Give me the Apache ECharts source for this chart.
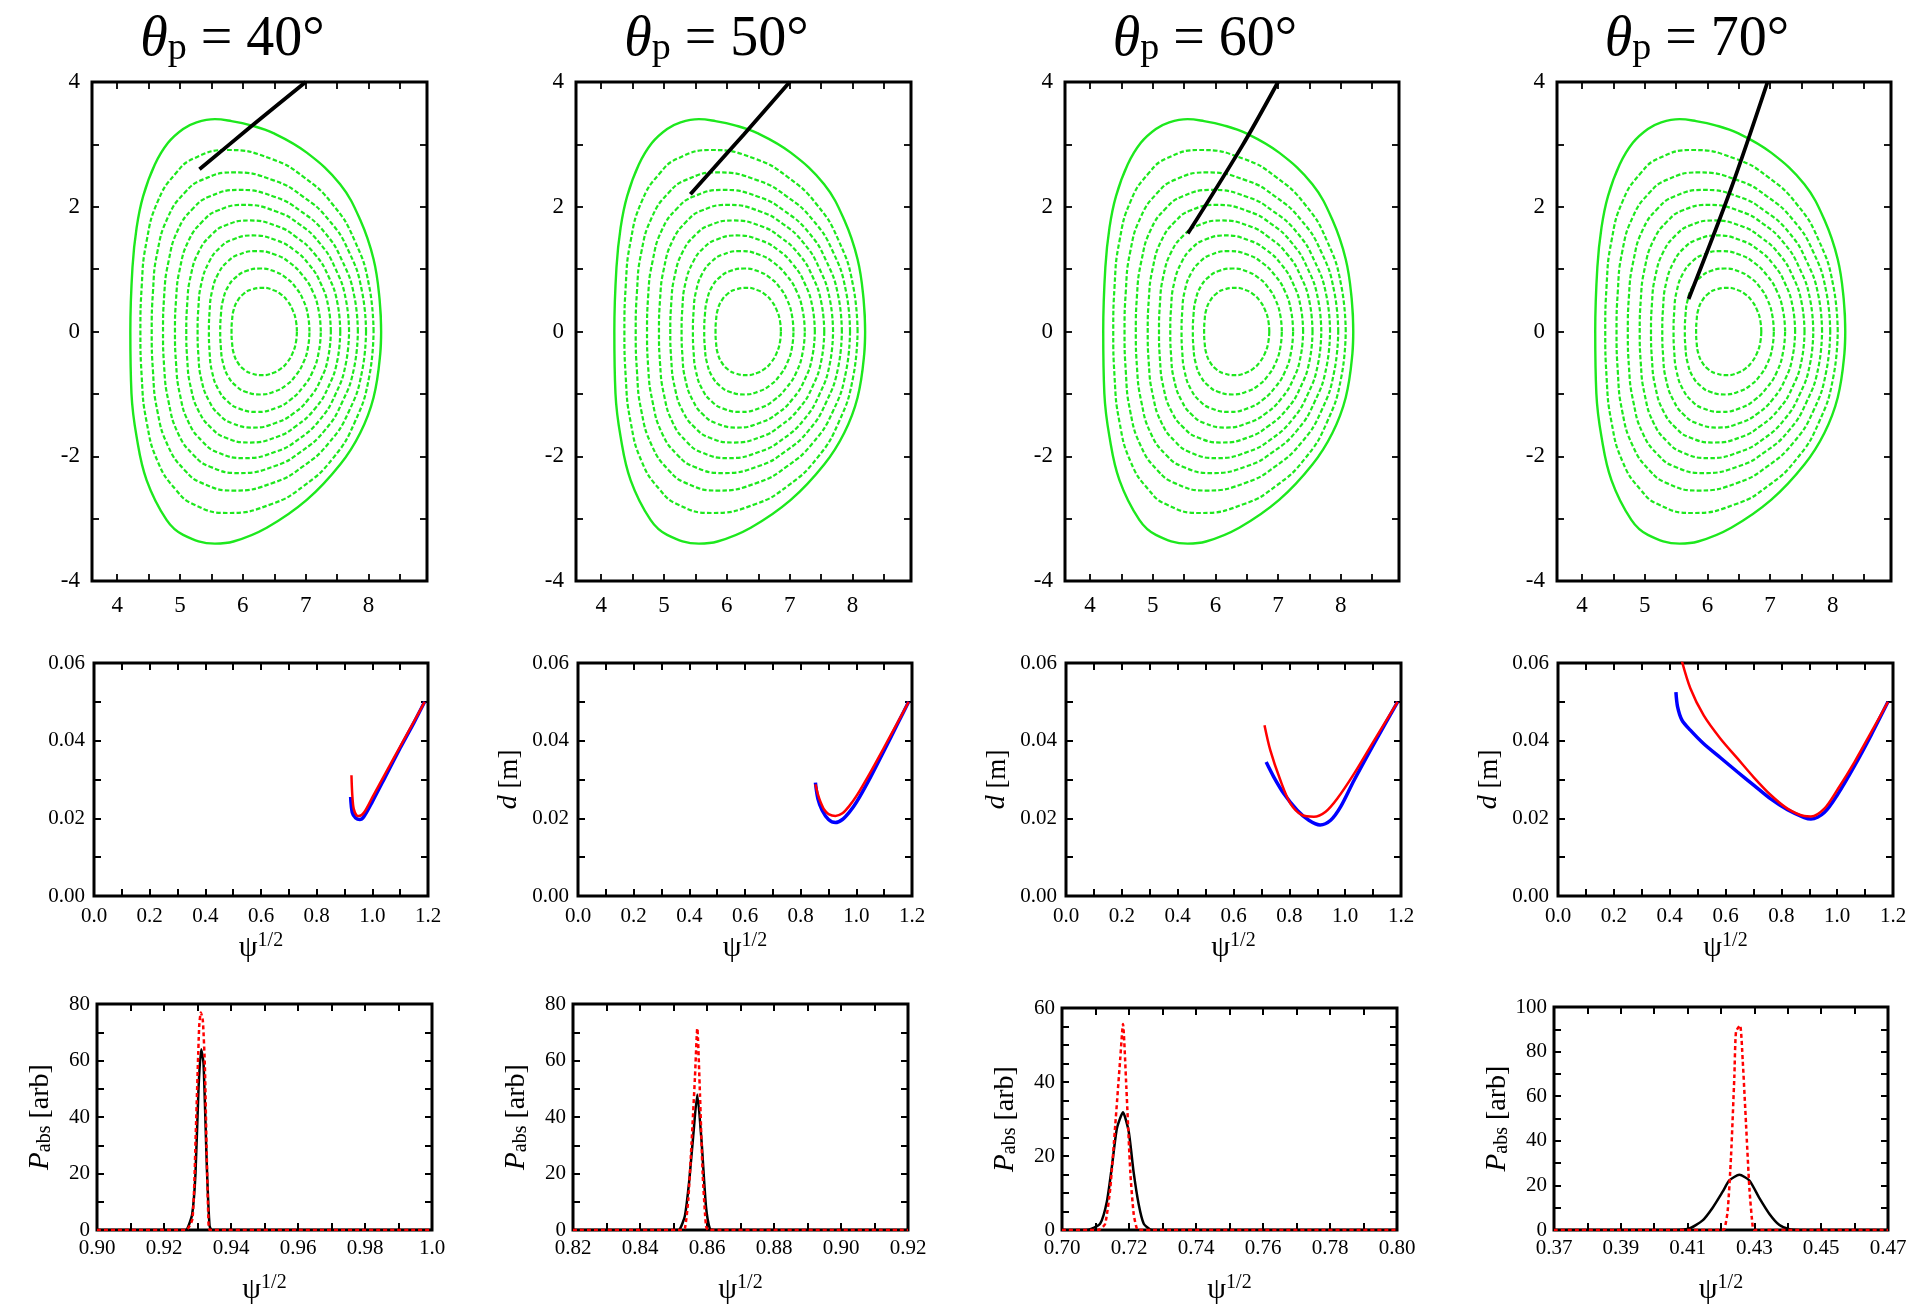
<!DOCTYPE html>
<html>
<head>
<meta charset="utf-8">
<script src="https://cdn.jsdelivr.net/npm/echarts@6.0.0/dist/echarts.min.js"></script>
<style>
  html, body { margin: 0; padding: 0; background: #fff; }
  #main { position: absolute; left: 0; top: 0; width: 1932px; height: 1306px; }
</style>
</head>
<body>
<div id="main"></div>
<script>
var SERIF = 'Liberation Serif';

var thetaP = ['40', '50', '60', '70'];

// ---- flux surfaces, upper halves: outboard midplane -> top -> inboard midplane, [R, Z]
var surf1 = [[6.86,0],[6.844,0.175],[6.79,0.35],[6.71,0.49],[6.60,0.60],[6.48,0.665],[6.32,0.70],[6.13,0.67],[6.02,0.61],[5.92,0.50],[5.855,0.35],[5.828,0.175],[5.82,0]];
var surf2 = [[7.06,0],[7.037,0.2525],[6.96,0.505],[6.84,0.707],[6.69,0.86],[6.51,0.96],[6.28,1.01],[6.04,0.965],[5.90,0.88],[5.77,0.727],[5.685,0.505],[5.65,0.2525],[5.64,0]];
var surf3 = [[7.24,0],[7.209,0.3225],[7.11,0.645],[6.95,0.90],[6.75,1.10],[6.53,1.226],[6.22,1.29],[5.93,1.232],[5.76,1.122],[5.61,0.929],[5.51,0.645],[5.471,0.3225],[5.46,0]];
var surf4 = [[7.40,0],[7.363,0.385],[7.24,0.77],[7.05,1.078],[6.81,1.31],[6.53,1.463],[6.16,1.54],[5.83,1.471],[5.63,1.34],[5.46,1.109],[5.34,0.77],[5.293,0.385],[5.28,0]];
var surf5 = [[7.55,0],[7.507,0.445],[7.36,0.89],[7.14,1.246],[6.85,1.513],[6.54,1.691],[6.10,1.78],[5.72,1.70],[5.50,1.549],[5.30,1.282],[5.17,0.89],[5.115,0.445],[5.10,0]];
var surf6 = [[7.69,0],[7.64,0.5075],[7.47,1.015],[7.22,1.421],[6.89,1.726],[6.52,1.929],[6.02,2.03],[5.60,1.939],[5.36,1.766],[5.14,1.462],[5.00,1.015],[4.937,0.5075],[4.92,0]];
var surf7 = [[7.83,0],[7.773,0.5675],[7.58,1.135],[7.30,1.589],[6.92,1.93],[6.51,2.157],[5.94,2.27],[5.48,2.168],[5.21,1.975],[4.97,1.634],[4.82,1.135],[4.748,0.5675],[4.73,0]];
var surf8 = [[7.96,0],[7.897,0.6375],[7.69,1.275],[7.37,1.785],[6.95,2.168],[6.49,2.423],[5.86,2.55],[5.36,2.435],[5.07,2.219],[4.81,1.836],[4.64,1.275],[4.57,0.6375],[4.55,0]];
var surf9 = [[8.08,0],[8.01,0.7275],[7.78,1.455],[7.43,2.037],[6.97,2.474],[6.46,2.765],[5.76,2.91],[5.23,2.779],[4.93,2.532],[4.65,2.095],[4.47,1.455],[4.391,0.7275],[4.37,0]];
// last closed flux surface, full loop
var lcfs = [[8.20,0],[8.175,0.525],[8.08,1.158],[7.867,1.79],[7.548,2.36],[7.017,2.867],[6.486,3.18],[6.114,3.31],[5.82,3.373],[5.556,3.405],[5.264,3.354],[5.05,3.247],[4.81,3.025],[4.60,2.677],[4.414,2.17],[4.31,1.665],[4.244,1.03],[4.21,0],[4.228,-0.994],[4.31,-1.69],[4.47,-2.386],[4.786,-3.02],[5.05,-3.26],[5.556,-3.40],[5.85,-3.367],[6.38,-3.146],[7.017,-2.70],[7.548,-2.133],[7.867,-1.627],[8.08,-1.057],[8.186,-0.36],[8.20,0]];

// ---- beam paths
var ray40 = [[7.0,4.0],[6.11,3.27],[5.31,2.60]];
var ray50 = [[7.0,4.0],[6.27,3.16],[5.42,2.20]];
var ray60 = [[7.0,4.0],[6.43,2.98],[5.56,1.57]];
var ray70 = [[6.96,4.0],[6.37,2.27],[5.70,0.52]];

// ---- beam width d vs psi^1/2 (red / blue)
var red40 = [[0.925,0.0311],[0.928,0.026],[0.933,0.0225],[0.943,0.0208],[0.952,0.0206],[0.97,0.0215],[1.0,0.0254],[1.05,0.032],[1.10,0.0385],[1.15,0.045],[1.188,0.050]];
var blue40 = [[0.922,0.0255],[0.928,0.0215],[0.94,0.0201],[0.955,0.0197],[0.97,0.0205],[1.0,0.0243],[1.05,0.0312],[1.10,0.0381],[1.15,0.0447],[1.188,0.050]];
var red50 = [[0.853,0.0288],[0.862,0.0262],[0.871,0.0243],[0.885,0.0222],[0.9,0.0211],[0.925,0.0206],[0.95,0.0213],[0.975,0.0232],[1.0,0.0257],[1.05,0.0318],[1.10,0.0383],[1.15,0.0449],[1.188,0.050]];
var blue50 = [[0.853,0.0292],[0.862,0.025],[0.877,0.0221],[0.9,0.0197],[0.925,0.0189],[0.95,0.0197],[0.975,0.0216],[1.0,0.0241],[1.05,0.0305],[1.10,0.0375],[1.15,0.0446],[1.188,0.050]];
var red60 = [[0.711,0.044],[0.732,0.0375],[0.768,0.0298],[0.804,0.0238],[0.846,0.0208],[0.888,0.0204],[0.93,0.0217],[0.972,0.0251],[1.032,0.0315],[1.104,0.0401],[1.188,0.050]];
var blue60 = [[0.717,0.0345],[0.744,0.0307],[0.78,0.0264],[0.828,0.0221],[0.87,0.0195],[0.91,0.0183],[0.948,0.0195],[0.984,0.023],[1.032,0.0298],[1.104,0.0393],[1.188,0.050]];
var red70 = [[0.440,0.0615],[0.474,0.0535],[0.522,0.0465],[0.582,0.0405],[0.642,0.0355],[0.702,0.0305],[0.762,0.026],[0.822,0.0225],[0.882,0.0206],[0.906,0.0205],[0.954,0.0225],[1.002,0.0275],[1.062,0.0345],[1.122,0.0422],[1.182,0.050]];
var blue70 = [[0.4224,0.0525],[0.4284,0.0487],[0.444,0.0453],[0.474,0.0427],[0.522,0.0392],[0.582,0.0356],[0.642,0.032],[0.702,0.0285],[0.762,0.025],[0.822,0.0222],[0.882,0.0202],[0.906,0.0198],[0.954,0.0215],[1.002,0.0262],[1.062,0.0335],[1.122,0.0415],[1.182,0.050]];

// ---- absorbed power profiles (black solid / red dashed)
var pBlack40 = [[0.90,0],[0.926,0],[0.9269,0.3],[0.9284,5.5],[0.9294,20],[0.9303,50],[0.9311,64],[0.9318,59],[0.9328,22],[0.9336,1.5],[0.9343,0],[1.0,0]];
var pRed40 = [[0.90,0],[0.9265,0],[0.9285,4],[0.9295,35],[0.9305,72],[0.931,77],[0.9316,74],[0.9322,58],[0.9327,30],[0.9332,6],[0.9337,0],[1.0,0]];
var pBlack50 = [[0.82,0],[0.851,0],[0.8519,0.3],[0.8534,5],[0.8547,17.5],[0.8559,33.5],[0.8571,48],[0.8584,31],[0.8597,8.3],[0.8609,0.3],[0.862,0],[0.92,0]];
var pRed50 = [[0.82,0],[0.8525,0],[0.8534,0.5],[0.8544,10.6],[0.8554,31],[0.8564,54],[0.8571,71.4],[0.8579,48],[0.8587,20],[0.8597,1.5],[0.8604,0],[0.92,0]];
var pBlack60 = [[0.70,0],[0.707,0],[0.7085,0.2],[0.7114,1.7],[0.7134,7.7],[0.7149,17.2],[0.7164,27.5],[0.7182,31.8],[0.7199,26.7],[0.7214,15.5],[0.7229,6.9],[0.7244,1.7],[0.7264,0.1],[0.728,0],[0.80,0]];
var pRed60 = [[0.70,0],[0.7105,0],[0.7114,0.2],[0.7129,1.7],[0.7144,11.2],[0.7159,28.4],[0.7174,46.5],[0.7182,55.7],[0.7192,38.7],[0.7204,15.5],[0.7214,4.3],[0.7224,0.2],[0.723,0],[0.80,0]];
var pBlack70 = [[0.37,0],[0.4045,0],[0.4105,0.7],[0.4145,4.3],[0.4175,10],[0.4205,17.2],[0.4225,22.2],[0.4255,24.8],[0.4285,22.2],[0.4315,14.3],[0.4345,7.2],[0.4375,2.2],[0.4405,0.3],[0.4435,0],[0.47,0]];
var pRed70 = [[0.37,0],[0.420,0],[0.421,0.3],[0.422,8.6],[0.423,33],[0.424,68.9],[0.4245,89],[0.4257,91.8],[0.4265,76],[0.4275,47.3],[0.4285,18.7],[0.4295,1.4],[0.430,0],[0.47,0]];

// ---- ticks and tick labels
var rTicks = [4,4.5,5,5.5,6,6.5,7,7.5,8,8.5];
var rLabels = [4,5,6,7,8];
var zTicks = [-4,-3,-2,-1,0,1,2,3,4];
var zLabels = [-4,-2,0,2,4];
var psiTicks = [0,0.1,0.2,0.3,0.4,0.5,0.6,0.7,0.8,0.9,1.0,1.1,1.2];
var psiLabels = [0,0.2,0.4,0.6,0.8,1.0,1.2];
var dTicks = [0,0.01,0.02,0.03,0.04,0.05,0.06];
var dLabels = [0,0.02,0.04,0.06];
var pxTicks40 = [0.90,0.91,0.92,0.93,0.94,0.95,0.96,0.97,0.98,0.99,1.0];
var pxLabels40 = [0.90,0.92,0.94,0.96,0.98,1.0];
var pxTicks50 = [0.82,0.83,0.84,0.85,0.86,0.87,0.88,0.89,0.90,0.91,0.92];
var pxLabels50 = [0.82,0.84,0.86,0.88,0.90,0.92];
var pxTicks60 = [0.70,0.71,0.72,0.73,0.74,0.75,0.76,0.77,0.78,0.79,0.80];
var pxLabels60 = [0.70,0.72,0.74,0.76,0.78,0.80];
var pxTicks70 = [0.37,0.38,0.39,0.40,0.41,0.42,0.43,0.44,0.45,0.46,0.47];
var pxLabels70 = [0.37,0.39,0.41,0.43,0.45,0.47];
var pyTicks80 = [0,10,20,30,40,50,60,70,80];
var pyLabels80 = [0,20,40,60,80];
var pyTicks60 = [0,5,10,15,20,25,30,35,40,45,50,55,60];
var pyLabels60 = [0,20,40,60];
var pyTicks100 = [0,10,20,30,40,50,60,70,80,90,100];
var pyLabels100 = [0,20,40,60,80,100];

var surfaces = [surf1, surf2, surf3, surf4, surf5, surf6, surf7, surf8, surf9];
var rays = [ray40, ray50, ray60, ray70];
var reds = [red40, red50, red60, red70];
var blues = [blue40, blue50, blue60, blue70];
var pBlacks = [pBlack40, pBlack50, pBlack60, pBlack70];
var pReds = [pRed40, pRed50, pRed60, pRed70];
var pxTicks = [pxTicks40, pxTicks50, pxTicks60, pxTicks70];
var pxLabels = [pxLabels40, pxLabels50, pxLabels60, pxLabels70];
var pxRange = [[0.90,1.0],[0.82,0.92],[0.70,0.80],[0.37,0.47]];
var pyTicks = [pyTicks80, pyTicks80, pyTicks60, pyTicks100];
var pyLabels = [pyLabels80, pyLabels80, pyLabels60, pyLabels100];
var pyMax = [80, 80, 60, 100];

// ---- layout (page pixels): left, top, width, height of each plot box
var topBoxes = [[92,82,335,499],[576,82,335,499],[1065,82,334,499],[1557,82,334,499]];
var midBoxes = [[94,663,334,233],[578,663,334,233],[1066,663,335,233],[1558,663,335,233]];
var botBoxes = [[97,1004,335,234],[573,1004,335,234],[1062,1008,335,232],[1554,1007,334,233]];

var GREEN = '#1de81d';

function mirror(upper) {
  var lower = upper.slice(0, -1).reverse().map(function (p) { return [p[0], -p[1]]; });
  return upper.concat(lower);
}
function wrap(loop) {
  // one extra point on each end so the smoothed path closes without a corner
  return [loop[loop.length - 2]].concat(loop, [loop[1]]);
}

function rich(fs, extra) {
  var s = { fontFamily: SERIF, fontSize: fs, color: '#000' };
  for (var k in extra) s[k] = extra[k];
  return s;
}

var PSI_NAME = '{p|ψ}{s|1/2}';
var PSI_STYLE = { color: '#000', fontFamily: SERIF, fontSize: 30,
  rich: { p: rich(30, { verticalAlign: 'bottom', lineHeight: 32 }),
          s: rich(20, { verticalAlign: 'top', lineHeight: 12 }) } };
var D_NAME = '{i|d}{n| [m]}';
var D_STYLE = { color: '#000', fontFamily: SERIF, fontSize: 27,
  rich: { i: rich(28, { fontStyle: 'italic', verticalAlign: 'bottom', lineHeight: 30 }),
          n: rich(27, { verticalAlign: 'bottom', lineHeight: 30 }) } };
var P_NAME = '{i|P}{s|abs}{n| [arb]}';
var P_STYLE = { color: '#000', fontFamily: SERIF, fontSize: 28,
  rich: { i: rich(29, { fontStyle: 'italic', verticalAlign: 'bottom', lineHeight: 32 }),
          s: rich(20, { verticalAlign: 'bottom', lineHeight: 13 }),
          n: rich(28, { verticalAlign: 'bottom', lineHeight: 32 }) } };
var TITLE_RICH = {
  t: rich(56, { fontStyle: 'italic', verticalAlign: 'bottom', lineHeight: 60 }),
  s: rich(38, { verticalAlign: 'bottom', lineHeight: 32 }),
  n: rich(56, { verticalAlign: 'bottom', lineHeight: 60 })
};

function addPanel(o, p) {
  var gi = o.grid.length;
  o.grid.push({ left: p.box[0], top: p.box[1], width: p.box[2], height: p.box[3],
    show: true, borderColor: '#000', borderWidth: p.bw, backgroundColor: 'transparent' });
  var lab = { color: '#000', fontFamily: SERIF, fontSize: p.fs };
  var xi = o.xAxis.length, yi = o.yAxis.length;
  ['bottom', 'top'].forEach(function (pos, k) {
    o.xAxis.push({
      type: 'value', gridIndex: gi, position: pos, min: p.xr[0], max: p.xr[1],
      axisLine: { show: false, onZero: false }, splitLine: { show: false },
      axisTick: { show: true, inside: true, length: p.tl, customValues: p.xt,
                  lineStyle: { color: '#000', width: p.tw } },
      axisLabel: k ? { show: false } : Object.assign({ show: true, customValues: p.xl,
                  formatter: p.xf, margin: p.xm, showMinLabel: true, showMaxLabel: true }, lab),
      name: k ? '' : (p.xn || ''), nameLocation: 'middle', nameGap: p.xg, nameTextStyle: p.xns
    });
  });
  ['left', 'right'].forEach(function (pos, k) {
    o.yAxis.push({
      type: 'value', gridIndex: gi, position: pos, min: p.yr[0], max: p.yr[1],
      axisLine: { show: false, onZero: false }, splitLine: { show: false },
      axisTick: { show: true, inside: true, length: p.tl, customValues: p.yt,
                  lineStyle: { color: '#000', width: p.tw } },
      axisLabel: k ? { show: false } : Object.assign({ show: true, customValues: p.yl,
                  formatter: p.yf, margin: p.ym, showMinLabel: true, showMaxLabel: true }, lab),
      name: k ? '' : (p.yn || ''), nameLocation: 'middle', nameGap: p.yg, nameTextStyle: p.yns
    });
  });
  return [xi, yi];
}

function curve(ax, data, color, width, type, smooth) {
  return { type: 'line', xAxisIndex: ax[0], yAxisIndex: ax[1], data: data,
    symbol: 'none', showSymbol: false, smooth: smooth, clip: true, silent: true,
    animation: false, lineStyle: { color: color, width: width, type: type || 'solid' } };
}

var chart = echarts.init(document.getElementById('main'));
var option = { animation: false, grid: [], xAxis: [], yAxis: [], series: [], graphic: [] };

// ---- top row: flux surfaces and beam paths
topBoxes.forEach(function (b, i) {
  var ax = addPanel(option, { box: b, bw: 3, xr: [3.6, 8.93], yr: [-4, 4],
    xt: rTicks, xl: rLabels, yt: zTicks, yl: zLabels,
    xf: function (v) { return String(v); }, yf: function (v) { return String(v); },
    fs: 23, xm: 13, ym: 12, tl: 7, tw: 1.8 });
  surfaces.forEach(function (s) {
    option.series.push(curve(ax, mirror(s), GREEN, 2.2, [4.5, 2.2], 0.5));
  });
  option.series.push(curve(ax, wrap(lcfs), GREEN, 2.4, 'solid', 0.4));
  option.series.push(curve(ax, rays[i], '#000', 3.8, 'solid', 0.3));
  option.graphic.push({ type: 'text', x: b[0] + b[2] / 2 - 27, y: 38, silent: true,
    style: { text: '{t|θ}{s|p}{n| = ' + thetaP[i] + '°}', rich: TITLE_RICH,
             align: 'center', verticalAlign: 'middle', textAlign: 'center', textVerticalAlign: 'middle' } });
});

// ---- middle row: beam width
midBoxes.forEach(function (b, i) {
  var ax = addPanel(option, { box: b, bw: 3, xr: [0, 1.2], yr: [0, 0.06],
    xt: psiTicks, xl: psiLabels, yt: dTicks, yl: dLabels,
    xf: function (v) { return v.toFixed(1); }, yf: function (v) { return v.toFixed(2); },
    fs: 21, xm: 10, ym: 9, tl: 7, tw: 2,
    xn: PSI_NAME, xg: 35, xns: PSI_STYLE,
    yn: i ? D_NAME : '', yg: 55, yns: D_STYLE });
  option.series.push(curve(ax, blues[i], '#0000ff', 3.5, 'solid', 0.3));
  option.series.push(curve(ax, reds[i], '#ff0000', 2.5, 'solid', 0.3));
});

// ---- bottom row: absorbed power
botBoxes.forEach(function (b, i) {
  var ax = addPanel(option, { box: b, bw: 3, xr: pxRange[i], yr: [0, pyMax[i]],
    xt: pxTicks[i], xl: pxLabels[i], yt: pyTicks[i], yl: pyLabels[i],
    xf: function (v) { return Math.abs(v - 1) < 1e-9 ? '1.0' : v.toFixed(2); },
    yf: function (v) { return String(v); },
    fs: 21, xm: 8, ym: 7, tl: 7, tw: 2,
    xn: PSI_NAME, xg: 43, xns: PSI_STYLE,
    yn: P_NAME, yg: 42, yns: P_STYLE });
  option.series.push(curve(ax, pBlacks[i], '#000', 2.5, 'solid', 0.2));
  option.series.push(curve(ax, pReds[i], '#ff0000', 2.5, [4, 3], 0.2));
});

chart.setOption(option);
</script>
</body>
</html>
